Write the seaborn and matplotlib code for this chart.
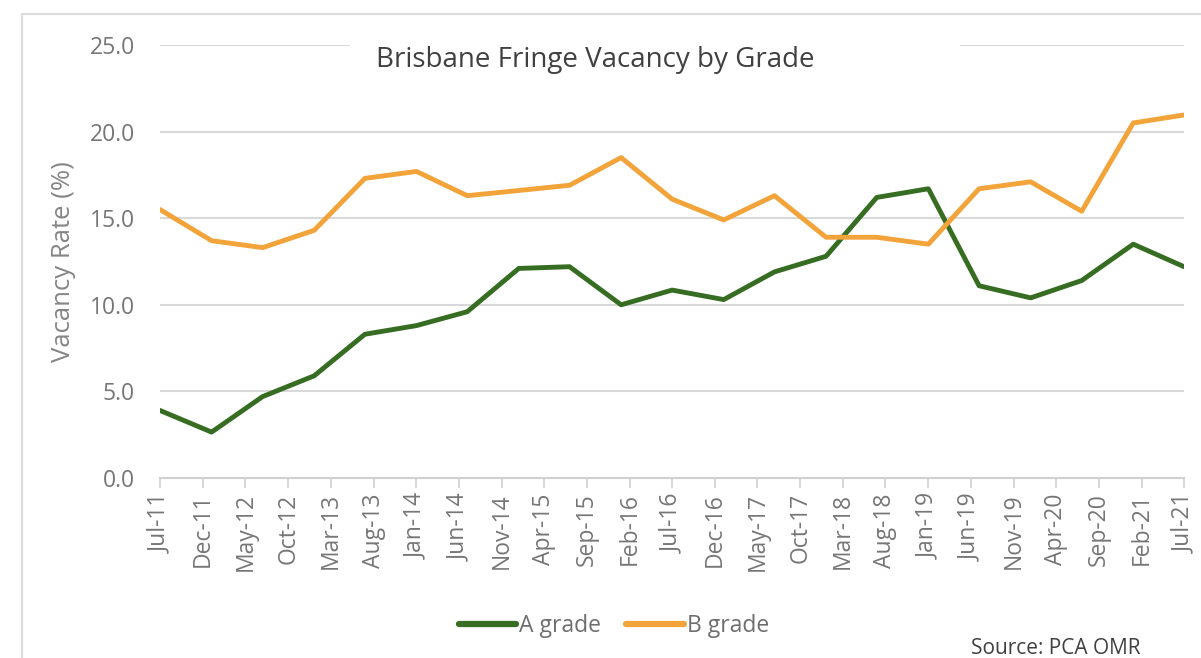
import matplotlib
matplotlib.use("Agg")
import matplotlib.pyplot as plt
import matplotlib.patches as mpatches
import seaborn as sns
import pandas as pd

periods = ["2011-07-01", "2012-01-01", "2012-07-01", "2013-01-01", "2013-07-01",
           "2014-01-01", "2014-07-01", "2015-01-01", "2015-07-01", "2016-01-01",
           "2016-07-01", "2017-01-01", "2017-07-01", "2018-01-01", "2018-07-01",
           "2019-01-01", "2019-07-01", "2020-01-01", "2020-07-01", "2021-01-01",
           "2021-07-01"]
a_grade = [3.9, 2.65, 4.7, 5.9, 8.3, 8.8, 9.6, 12.1, 12.2, 10.0, 10.85, 10.3,
           11.9, 12.8, 16.2, 16.7, 11.1, 10.4, 11.4, 13.5, 12.2]
b_grade = [15.5, 13.7, 13.3, 14.3, 17.3, 17.7, 16.3, 16.6, 16.9, 18.5, 16.1, 14.9,
           16.3, 13.9, 13.9, 13.5, 16.7, 17.1, 15.4, 20.5, 20.96]
tick_dates = ["2011-07-01", "2011-12-01", "2012-05-01", "2012-10-01", "2013-03-01",
              "2013-08-01", "2014-01-01", "2014-06-01", "2014-11-01", "2015-04-01",
              "2015-09-01", "2016-02-01", "2016-07-01", "2016-12-01", "2017-05-01",
              "2017-10-01", "2018-03-01", "2018-08-01", "2019-01-01", "2019-06-01",
              "2019-11-01", "2020-04-01", "2020-09-01", "2021-02-01", "2021-07-01"]
tick_labels = ["Jul-11", "Dec-11", "May-12", "Oct-12", "Mar-13", "Aug-13", "Jan-14",
               "Jun-14", "Nov-14", "Apr-15", "Sep-15", "Feb-16", "Jul-16", "Dec-16",
               "May-17", "Oct-17", "Mar-18", "Aug-18", "Jan-19", "Jun-19", "Nov-19",
               "Apr-20", "Sep-20", "Feb-21", "Jul-21"]
y_ticks = [0, 5, 10, 15, 20, 25]
series_names = ["A grade", "B grade"]
colors = {"A grade": "#366d22", "B grade": "#f2a33a"}

dates = pd.to_datetime(periods)
df = pd.DataFrame({
    "date": list(dates) * 2,
    "value": a_grade + b_grade,
    "grade": [series_names[0]] * len(a_grade) + [series_names[1]] * len(b_grade),
})

sns.set_theme(style="white")
plt.rcParams["font.family"] = ["Open Sans", "DejaVu Sans"]

W, H = 1201, 658
fig = plt.figure(figsize=(W / 100, H / 100), dpi=100)
fig.patch.set_facecolor("white")
# outer frame
fig.patches.append(mpatches.Rectangle((22 / W, -0.01), 1.1, 1 - 14 / H + 0.01,
                                      transform=fig.transFigure, fill=False,
                                      edgecolor="#dcdcdc", linewidth=1.5))

ax = fig.add_axes([160 / W, 1 - 478 / H, 1024 / W, 433 / H])
sns.lineplot(data=df, x="date", y="value", hue="grade", palette=colors,
             linewidth=3.5, ax=ax, legend=False)

ax.set_xlim(pd.Timestamp(tick_dates[0]), pd.Timestamp(tick_dates[-1]))
ax.set_ylim(0, 25)
ax.set_yticks(y_ticks)
ax.set_yticklabels([f"{v:.1f}" for v in y_ticks])
ax.set_xticks(pd.to_datetime(tick_dates))
ax.set_xticklabels(tick_labels, rotation=90)

ax.grid(axis="y", color="#d9d9d9", linewidth=1.5)
ax.set_axisbelow(True)
for s in ["top", "right", "left"]:
    ax.spines[s].set_visible(False)
ax.spines["bottom"].set_color("#d0d0d0")
ax.spines["bottom"].set_linewidth(1.5)
ax.tick_params(axis="x", which="major", length=7, width=1.2, color="#d0d0d0",
               labelsize=16.5, labelcolor="#767676", pad=4, bottom=True)
ax.tick_params(axis="y", length=0, labelsize=16.5, labelcolor="#767676", pad=18)

ax.set_xlabel("")
ax.set_ylabel("Vacancy Rate (%)", fontsize=18.5, color="#858585", labelpad=10)

# white box behind the title interrupting the top gridline
ax.add_patch(mpatches.Rectangle(((350 - 160) / 1024, (478 - 90) / 433),
                                (960 - 350) / 1024, 0.2, transform=ax.transAxes,
                                facecolor="white", edgecolor="none",
                                zorder=1.5, clip_on=False))
fig.text(595 / W, 1 - 60 / H, "Brisbane Fringe Vacancy by Grade", ha="center",
         va="center", fontsize=20, color="#404040")

handles = [plt.Line2D([], [], color=colors[n], linewidth=4.5) for n in series_names]
fig.legend(handles, series_names, loc="center", bbox_to_anchor=(614 / W, 1 - 626 / H),
           ncol=2, frameon=False, fontsize=16.5, handlelength=2.5, handletextpad=0.15,
           columnspacing=1.1, labelcolor="#6e6e6e")

fig.text(1056 / W, 1 - 648 / H, "Source: PCA OMR", ha="center", va="center",
         fontsize=15, color="#404040")

fig.savefig("out.png", dpi=100)
